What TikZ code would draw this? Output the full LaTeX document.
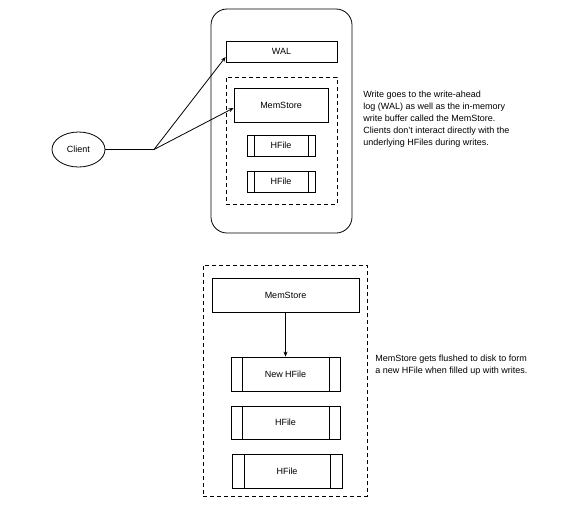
\documentclass[tikz,border=0pt]{standalone}
\usepackage{fontspec}
\setmainfont{Liberation Sans}
\usetikzlibrary{positioning}
\usetikzlibrary{shapes.geometric}
\usetikzlibrary{arrows.meta}

\begin{document}
\begin{tikzpicture}[x=1pt,y=-1pt,line width=.8pt,
  box/.style={draw,rectangle,inner sep=0pt,font=\fontsize{9}{11}\selectfont},
  hfile/.style={box,path picture={
    \draw ([xshift=#1]path picture bounding box.north west) -- ([xshift=#1]path picture bounding box.south west);
    \draw ([xshift=-#1]path picture bounding box.north east) -- ([xshift=-#1]path picture bounding box.south east);}},
  hfile/.default=7pt,
  region/.style={draw,dashed,dash pattern=on 4pt off 3pt,rectangle,inner sep=0pt},
  note/.style={align=left,anchor=north west,inner sep=0pt,font=\fontsize{9}{12}\selectfont},
  >={Stealth[length=5pt,width=4pt]}]
\useasboundingbox (0,0) rectangle (585,514);
% write path
  \node (server) [draw,rounded corners=16pt,minimum width=141pt,minimum height=224pt] at (281.5,121) {};
  \node (wal) [box,minimum width=111pt,minimum height=21pt] at (281.5,51.5) {WAL};
  \node (store) [region,minimum width=111pt,minimum height=127pt] at (281.5,140.5) {};
  \node (mem) [box,minimum width=94pt,minimum height=34pt] at (281,105) {MemStore};
  \node (hfa) [hfile,minimum width=68pt,minimum height=21pt] at (281,145.5) {HFile};
  \node (hfb) [hfile,minimum width=68pt,minimum height=21pt] at (281,181.5) {HFile};
  \node (client) [draw,ellipse,minimum width=53pt,minimum height=35pt,inner sep=0pt,font=\fontsize{9}{11}\selectfont] at (78.5,149.5) {Client};
  \coordinate (split) at (154,149.5);
  \node (writenote) [note] at (363,91) {Write goes to the write-ahead\\log (WAL) as well as the in-memory\\write buffer called the MemStore.\\Clients don't interact directly with the\\underlying HFiles during writes.};
% arrows
\draw (client) -- (split);
\draw [->] (split) -- ([yshift=-5.5pt]wal.west);
\draw [->] (split) -- ([yshift=-3pt]mem.west);
% flush
  \node (store2) [region,minimum width=164pt,minimum height=231pt] at (285,380.5) {};
  \node (mem2) [box,minimum width=147pt,minimum height=34pt] at (285.5,295) {MemStore};
  \node (newhf) [hfile=11pt,minimum width=109pt,minimum height=34pt] at (285.5,374) {New HFile};
  \node (hfc) [hfile=11pt,minimum width=109pt,minimum height=33pt] at (285.5,422.5) {HFile};
  \node (hfd) [hfile=12pt,minimum width=110pt,minimum height=34pt] at (287,471) {HFile};
  \node (flushnote) [note] at (375,355) {MemStore gets flushed to disk to form\\a new HFile when filled up with writes.};
\draw [->,line width=.6pt] (mem2) -- (newhf);
\end{tikzpicture}
\end{document}
